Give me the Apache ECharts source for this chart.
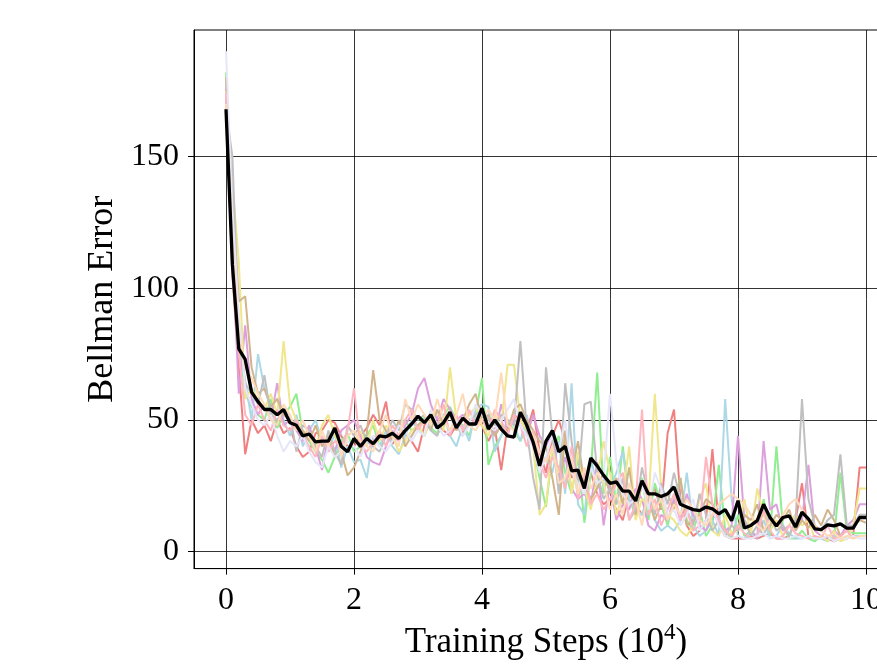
<!DOCTYPE html>
<html>
<head>
<meta charset="utf-8">
<title>Bellman Error</title>
<script src="https://cdn.jsdelivr.net/npm/echarts@6/dist/echarts.min.js"></script>
<style>
  html, body { margin: 0; padding: 0; background: #fff; overflow: hidden; }
  #chart { width: 910px; height: 665px; }
</style>
</head>
<body>
<div id="chart"></div>
<script>
// training steps (x 10^4), one sample every 0.1
const steps = Array.from({ length: 101 }, (_, i) => i / 10)
const xTicks = [0, 2, 4, 6, 8, 10]
const yTicks = [0, 50, 100, 150]

// individual runs
const runCoral = [
  172, 105, 70, 37, 50, 45, 48, 42, 50, 45,
  47, 40, 36, 38, 45, 46, 50, 49, 44, 40,
  40, 44, 47, 52, 48, 57, 41, 44, 45, 42,
  38, 48, 52, 49, 46, 44, 48, 45, 48, 50,
  48, 42, 47, 31, 48, 52, 50, 46, 54, 38,
  30, 44, 50, 42, 28, 35, 24, 30, 22, 18,
  20, 16, 12, 22, 18, 14, 20, 24, 16, 45,
  54, 20, 10, 6, 8, 12, 39, 10, 6, 5,
  5, 5, 6, 5, 6, 7, 5, 5, 6, 12,
  26, 6, 5, 6, 5, 4, 5, 5, 6, 32,
  32
]
const runGreen = [
  182, 125, 80, 60, 55, 52, 50, 58, 47, 52,
  55, 60, 45, 42, 38, 35, 30, 36, 42, 45,
  38, 40, 44, 48, 40, 45, 43, 48, 50, 46,
  48, 51, 47, 45, 52, 55, 50, 48, 44, 52,
  66, 33, 40, 44, 50, 46, 42, 48, 40, 28,
  17, 38, 44, 30, 22, 36, 11, 30, 68, 22,
  36, 18, 40, 20, 14, 28, 12, 26, 18, 10,
  20, 28, 12, 8, 16, 6, 10, 33, 8, 5,
  14, 6, 8, 5, 20, 6, 40, 10, 5, 5,
  8, 5, 4, 6, 5, 5, 30, 8, 7, 7,
  7
]
const runBlue = [
  178, 120, 75, 65, 50, 75, 62, 55, 58, 50,
  44, 52, 40, 46, 50, 42, 38, 45, 32, 40,
  34, 35, 28, 44, 40, 46, 40, 37, 44, 50,
  46, 44, 50, 47, 52, 44, 40, 48, 42, 54,
  56, 55, 38, 44, 50, 48, 42, 52, 40, 34,
  36, 30, 42, 22, 64, 18, 14, 36, 24, 28,
  24, 30, 38, 20, 16, 14, 22, 12, 8, 10,
  8, 12, 30, 10, 6, 8, 12, 6, 58, 20,
  6, 5, 8, 6, 12, 5, 6, 10, 7, 5,
  5, 6, 5, 5, 4, 6, 5, 5, 6, 6,
  6
]
const runPlum = [
  176, 115, 60, 86, 58, 52, 56, 50, 64, 48,
  50, 46, 42, 48, 40, 31, 44, 38, 46, 48,
  50, 44, 36, 34, 33, 40, 46, 42, 48, 52,
  62, 66, 56, 50, 58, 54, 50, 52, 48, 50,
  54, 48, 44, 56, 46, 50, 48, 44, 52, 44,
  40, 46, 28, 36, 24, 20, 22, 18, 34, 10,
  26, 12, 18, 16, 24, 20, 10, 8, 14, 12,
  20, 12, 22, 14, 10, 8, 14, 12, 8, 10,
  44, 12, 8, 5, 42, 16, 18, 8, 10, 14,
  12, 33, 8, 6, 5, 8, 6, 10, 12, 18,
  18
]
const runKhaki = [
  175, 140, 110, 58, 62, 58, 54, 60, 52, 80,
  56, 50, 46, 44, 40, 48, 52, 44, 40, 38,
  42, 46, 40, 50, 42, 48, 44, 38, 42, 46,
  48, 44, 50, 54, 46, 70, 50, 46, 52, 55,
  48, 44, 52, 48, 71, 71, 50, 46, 40, 14,
  18, 40, 30, 46, 22, 38, 24, 16, 28, 42,
  30, 14, 22, 40, 12, 20, 18, 60, 24, 14,
  12, 8, 6, 10, 20, 26, 8, 6, 14, 7,
  8, 20, 6, 24, 14, 8, 12, 6, 10, 14,
  10, 12, 5, 6, 4, 8, 4, 5, 10, 24,
  24
]
const runTan = [
  180, 135, 95, 97, 70, 60, 62, 55, 58, 52,
  50, 48, 46, 42, 48, 40, 44, 36, 38, 29,
  32, 38, 45, 69, 50, 46, 42, 50, 40, 44,
  48, 50, 46, 54, 48, 52, 46, 50, 56, 60,
  50, 52, 44, 48, 46, 54, 56, 50, 46, 42,
  40, 28, 14, 46, 30, 42, 26, 20, 24, 30,
  22, 28, 18, 32, 14, 26, 20, 12, 18, 22,
  16, 28, 10, 12, 14, 20, 18, 12, 8, 6,
  10, 14, 12, 18, 8, 10, 14, 12, 16, 8,
  12, 9, 14, 10, 16, 12, 6, 8, 10, 12,
  11
]
const runSilver = [
  168, 150, 85, 64, 60, 56, 67, 52, 50, 54,
  52, 38, 48, 46, 40, 36, 46, 38, 33, 48,
  44, 48, 42, 40, 38, 44, 50, 46, 56, 54,
  50, 52, 46, 44, 50, 52, 48, 44, 50, 52,
  54, 50, 48, 52, 50, 48, 80, 46, 28, 16,
  70, 44, 22, 64, 42, 26, 56, 57, 30, 20,
  24, 18, 28, 12, 16, 32, 22, 14, 26, 18,
  30, 20, 16, 10, 22, 14, 8, 12, 6, 10,
  8, 12, 6, 10, 6, 14, 8, 10, 6, 12,
  58, 20, 10, 8, 12, 14, 37, 10, 10, 14,
  14
]
const runPink = [
  174, 112, 76, 52, 48, 56, 50, 46, 54, 48,
  46, 50, 44, 40, 36, 44, 38, 42, 40, 46,
  62, 40, 38, 42, 46, 40, 48, 44, 50, 54,
  46, 50, 52, 48, 56, 44, 52, 46, 54, 48,
  50, 46, 54, 50, 44, 52, 48, 40, 46, 34,
  28, 36, 32, 24, 40, 20, 30, 18, 22, 16,
  20, 26, 30, 12, 18, 54, 14, 20, 10, 16,
  22, 12, 16, 8, 10, 36, 18, 12, 8, 6,
  10, 7, 5, 6, 16, 8, 5, 6, 10, 7,
  6, 5, 6, 5, 10, 5, 6, 8, 5, 6,
  6
]
const runLavender = [
  190, 130, 90, 62, 56, 50, 48, 52, 44, 38,
  42, 40, 44, 38, 34, 32, 40, 36, 38, 42,
  40, 36, 42, 44, 40, 38, 42, 48, 46, 42,
  46, 44, 54, 48, 44, 46, 50, 44, 48, 56,
  52, 48, 46, 50, 54, 58, 48, 44, 40, 30,
  36, 44, 38, 50, 30, 26, 22, 32, 26, 28,
  60, 34, 22, 18, 20, 26, 16, 30, 24, 14,
  16, 10, 14, 20, 8, 12, 16, 10, 6, 5,
  6, 5, 5, 6, 7, 5, 6, 5, 5, 6,
  5, 6, 5, 5, 6, 4, 5, 5, 6, 5,
  5
]
const runPeach = [
  170, 118, 82, 70, 66, 60, 56, 50, 48, 56,
  52, 46, 50, 44, 38, 46, 40, 48, 36, 44,
  46, 42, 40, 38, 46, 52, 44, 40, 58, 50,
  56, 52, 48, 58, 50, 46, 52, 60, 48, 46,
  50, 54, 50, 68, 48, 46, 52, 48, 44, 38,
  34, 40, 26, 28, 36, 22, 32, 24, 30, 26,
  16, 22, 14, 26, 20, 10, 24, 16, 20, 12,
  18, 14, 20, 16, 12, 10, 14, 18, 20, 22,
  20, 18, 14, 10, 8, 12, 10, 14, 18, 20,
  16, 12, 10, 8, 6, 7, 5, 6, 5, 6,
  6
]

// mean over runs
const meanError = [
  168, 109, 77, 73, 60.6, 57, 54, 54, 52, 54,
  49, 48, 44, 44.7, 41.7, 42, 42, 47, 40, 38,
  43, 40, 43, 41, 44, 43.6, 45, 43, 46, 48.5,
  51.5, 49, 52, 47, 49, 53, 47, 50.7, 48.5, 48.5,
  54.5, 46.6, 50, 46.6, 44, 43.5, 53, 48, 41.5, 32.6,
  42, 46, 38, 40, 30.7, 31, 24, 35.6, 32.6, 29,
  26, 26.5, 23, 23, 19.3, 27, 22, 22, 21, 22,
  24.6, 18, 17, 16, 15.6, 17, 16.3, 14.4, 16, 11.8,
  19.4, 9, 10, 11.8, 18, 13, 9.8, 13, 13.6, 9.4,
  15, 12.5, 8.7, 8.4, 10.2, 9.8, 10.6, 9, 9, 13,
  13
]

const runs = [
  { values: runCoral, color: '#F08080' },
  { values: runGreen, color: '#90EE90' },
  { values: runBlue, color: '#ADD8E6' },
  { values: runPlum, color: '#DDA0DD' },
  { values: runKhaki, color: '#F0E68C' },
  { values: runTan, color: '#D2B48C' },
  { values: runSilver, color: '#C0C0C0' },
  { values: runPink, color: '#FFB6C1' },
  { values: runLavender, color: '#E6E6FA' },
  { values: runPeach, color: '#FFDAB9' }
]

const pairs = (vals) => steps.map((x, i) => [x, vals[i]])
const font = 'Liberation Serif, Times New Roman, serif'

const series = runs.map(r => ({
  type: 'line',
  data: pairs(r.values),
  showSymbol: false,
  lineStyle: { color: r.color, width: 2 },
  z: 2
}))
series.push({
  type: 'line',
  data: pairs(meanError),
  showSymbol: false,
  lineStyle: { color: '#000', width: 3.3 },
  z: 3
})

// the div is wider than the window so the plot frame runs off the right edge
const chart = echarts.init(document.getElementById('chart'), null, { renderer: 'canvas' })
chart.setOption({
  animation: false,
  backgroundColor: '#fff',
  grid: {
    left: 194, top: 30, width: 704, height: 540,
    show: true, borderColor: '#000', borderWidth: 1, backgroundColor: 'transparent'
  },
  xAxis: {
    type: 'value',
    min: -0.5,
    max: 10.5,
    name: '{t|Training Steps (10}{s|4}{t|)}',
    nameLocation: 'middle',
    nameGap: 50,
    nameTextStyle: {
      rich: {
        t: { fontFamily: font, fontSize: 35, color: '#000', lineHeight: 42 },
        s: { fontFamily: font, fontSize: 23, color: '#000', verticalAlign: 'top', lineHeight: 42 }
      }
    },
    axisLine: { show: true, onZero: false, lineStyle: { color: '#000', width: 1 } },
    axisTick: { show: true, inside: false, length: 6, customValues: xTicks, lineStyle: { color: '#000' } },
    axisLabel: { customValues: xTicks, margin: 16, fontFamily: font, fontSize: 32, color: '#000' },
    splitLine: { show: true, lineStyle: { color: '#000', width: 0.8 } }
  },
  yAxis: {
    type: 'value',
    min: -6.4,
    max: 198.1,
    name: 'Bellman Error',
    nameLocation: 'middle',
    nameGap: 72,
    nameTextStyle: { fontFamily: font, fontSize: 36, color: '#000' },
    axisLine: { show: true, onZero: false, lineStyle: { color: '#000', width: 1 } },
    axisTick: { show: true, inside: false, length: 6, customValues: yTicks, lineStyle: { color: '#000' } },
    axisLabel: { customValues: yTicks, margin: 15, fontFamily: font, fontSize: 32, color: '#000' },
    splitLine: { show: true, lineStyle: { color: '#000', width: 0.8 } }
  },
  series
})
</script>
</body>
</html>
